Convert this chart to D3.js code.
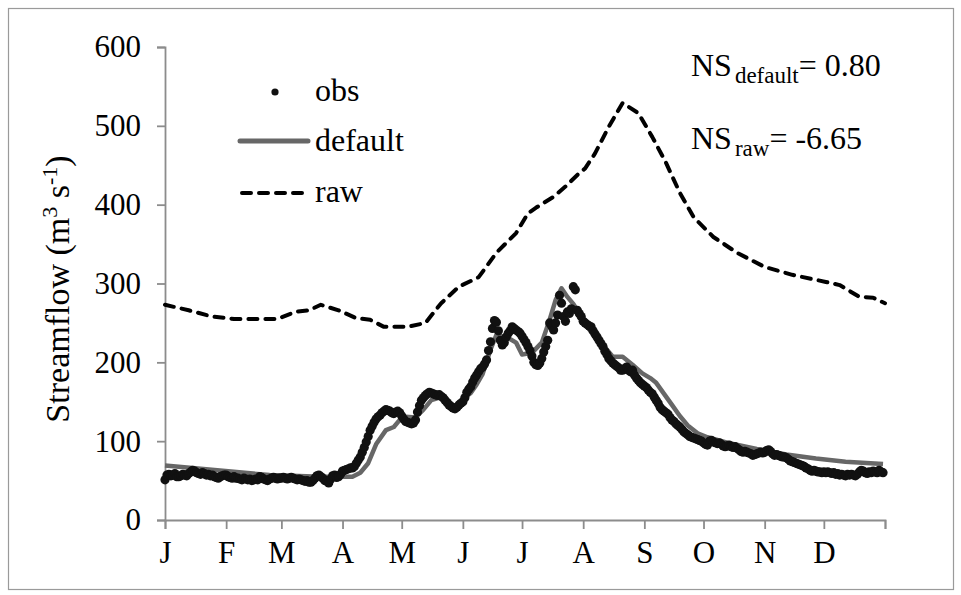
<!DOCTYPE html>
<html><head><meta charset="utf-8">
<script src="https://cdn.jsdelivr.net/npm/d3@7/dist/d3.min.js"></script>
<style>
html,body{margin:0;padding:0;background:#fff;}
svg{display:block;}
</style></head>
<body>
<svg id="chart" width="961" height="595"></svg>
<script>
// ---- data ----
const monthLabels = ["J","F","M","A","M","J","J","A","S","O","N","D"];
const monthStartDays = [0,31,59,90,120,151,181,212,243,273,304,334,365];
const yTicks = [0,100,200,300,400,500,600];

// observed daily streamflow (day 0..364)
const obsValues = [
 51,57,58,56,57,59,55,55,56,58,57,56,59,61,63,62,60,59,58,60,59,57,58,56,57,55,54,53,55,56,57,
 57,55,54,53,55,53,53,52,51,53,52,51,52,50,51,52,51,55,54,52,51,50,52,53,54,53,52,53,
 53,54,53,52,53,54,53,52,51,52,51,50,49,50,48,48,50,53,56,57,55,53,50,49,47,52,56,57,54,55,58,
 62,63,64,65,66,66,68,72,76,80,86,92,99,106,114,119,124,128,131,133,136,138,140,139,138,136,135,137,138,136,
 132,128,125,124,123,122,123,127,137,145,152,155,158,160,162,161,160,159,158,159,157,155,152,149,146,144,142,141,143,146,148,
 150,155,162,166,169,175,180,184,188,192,194,198,203,215,226,243,253,251,240,228,222,225,232,237,240,245,243,241,239,237,
 233,229,225,220,215,208,200,197,196,199,205,213,220,228,250,246,241,250,260,285,275,258,252,264,262,268,296,292,266,262,258,
 252,250,248,246,245,240,236,232,228,224,220,214,210,205,202,199,197,195,193,190,190,192,194,190,188,190,184,180,177,174,172,
 170,168,165,162,160,156,152,148,143,140,138,136,134,130,127,125,122,120,118,115,112,110,108,106,105,104,103,102,101,100,
 98,96,95,100,101,99,98,97,98,96,94,93,94,95,93,92,93,91,89,87,86,87,86,85,84,82,83,84,85,86,85,
 86,88,89,87,84,82,83,82,81,80,80,79,77,75,74,73,72,71,70,69,68,66,65,63,62,63,62,61,61,60,
 61,60,61,60,59,60,58,59,57,58,57,56,58,57,58,57,56,58,61,63,62,60,59,61,60,62,61,60,63,61,60
];

// default simulation (day, value)
const defaultDays   = [0,53,79,95,99,103,107,112,116,119,122,127,131,135,140,144,148,152,155,158,161,165,168,171,174,178,181,186,191,195,198,201,204,207,211,215,219,222,227,232,237,242,246,249,253,257,261,265,270,275,285,300,315,330,345,364];
const defaultValues = [69,57,55,55,60,72,96,114,118,127,131,130,140,152,156,150,142,155,161,172,185,216,235,233,231,225,210,212,225,254,279,294,283,274,258,242,230,222,207,207,197,186,180,174,160,146,132,120,110,105,98,90,83,78,74,71];

// raw simulation (day, value)
const rawDays   = [0,12,24,35,47,57,66,73,79,88,97,104,111,123,132,140,149,159,168,178,184,188,197,203,210,213,218,225,232,240,247,254,261,268,278,290,304,318,335,342,352,359,365];
const rawValues = [273,266,258,255,255,255,264,266,273,266,256,254,245,245,250,275,296,308,339,364,389,396,410,423,440,446,465,499,529,516,486,453,415,384,359,339,321,311,302,298,283,282,275];

// ---- chart ----
const FONT = "Liberation Serif";
const svg = d3.select("#chart");
const L = 165, R = 885, T = 47, B = 520;
const x = d3.scaleLinear().domain([0,365]).range([L,R]);
const y = d3.scaleLinear().domain([0,600]).range([B,T]);
const axisColor = "#8c8c8c";

// outer border
svg.append("rect").attr("x",8.5).attr("y",8.5).attr("width",945).attr("height",581)
  .attr("fill","none").attr("stroke","#9a9a9a").attr("stroke-width",1.2);

// y axis
const gy = svg.append("g").attr("transform",`translate(${L},0)`)
  .call(d3.axisLeft(y).tickValues(yTicks).tickSize(8).tickPadding(16).tickFormat(d3.format("d")));
gy.attr("font-family",FONT).attr("font-size",31);
gy.select(".domain").attr("stroke",axisColor).attr("stroke-width",1.8);
gy.selectAll(".tick line").attr("stroke",axisColor).attr("stroke-width",1.8);
gy.selectAll(".tick text").attr("fill","#000");

// x axis
const gx = svg.append("g").attr("transform",`translate(0,${B})`)
  .call(d3.axisBottom(x).tickValues(monthStartDays).tickSize(9).tickPadding(12)
    .tickFormat((d,i)=> i < monthLabels.length ? monthLabels[i] : ""));
gx.attr("font-family",FONT).attr("font-size",31);
gx.select(".domain").attr("stroke",axisColor).attr("stroke-width",1.8);
gx.selectAll(".tick line").attr("stroke",axisColor).attr("stroke-width",1.8);
gx.selectAll(".tick text").attr("fill","#000");

// y title
const yt = svg.append("text").attr("transform",`translate(69,289) rotate(-90)`)
  .attr("text-anchor","middle").attr("font-size",34).attr("font-family",FONT);
yt.append("tspan").text("Streamflow (m");
yt.append("tspan").attr("font-size",22).attr("dy",-12).text("3");
yt.append("tspan").attr("dy",12).text(" s");
yt.append("tspan").attr("font-size",22).attr("dy",-12).text("-1");
yt.append("tspan").attr("dy",12).text(")");

// raw dashed line
const rawPts = rawDays.map((d,i)=>[d,rawValues[i]]);
svg.append("path").datum(rawPts)
  .attr("d", d3.line().x(d=>x(d[0])).y(d=>y(d[1])))
  .attr("fill","none").attr("stroke","#000").attr("stroke-width",4)
  .attr("stroke-dasharray","9,8").attr("stroke-linecap","round").attr("stroke-linejoin","round");

// default line
const defPts = defaultDays.map((d,i)=>[d,defaultValues[i]]);
svg.append("path").datum(defPts)
  .attr("d", d3.line().x(d=>x(d[0])).y(d=>y(d[1])))
  .attr("fill","none").attr("stroke","#676767").attr("stroke-width",4.5)
  .attr("stroke-linejoin","round");

// obs dots
svg.append("g").selectAll("circle").data(obsValues).join("circle")
  .attr("cx",(d,i)=>x(i)).attr("cy",d=>y(d)).attr("r",4.6).attr("fill","#111");

// legend
const lg = svg.append("g").attr("font-family",FONT).attr("font-size",32);
lg.append("circle").attr("cx",275).attr("cy",92).attr("r",3.6).attr("fill","#111");
lg.append("text").attr("x",315).attr("y",101).text("obs");
lg.append("line").attr("x1",240).attr("x2",308).attr("y1",141).attr("y2",141)
  .attr("stroke","#676767").attr("stroke-width",5).attr("stroke-linecap","round");
lg.append("text").attr("x",315).attr("y",151).text("default");
lg.append("line").attr("x1",242).attr("x2",308).attr("y1",193).attr("y2",193)
  .attr("stroke","#000").attr("stroke-width",4).attr("stroke-dasharray","9,8").attr("stroke-linecap","round");
lg.append("text").attr("x",315).attr("y",202).text("raw");

// NS annotations
function ns(yb, sub, val){
  const t = svg.append("text").attr("x",691).attr("y",yb).attr("font-size",32).attr("font-family",FONT);
  t.append("tspan").text("NS");
  t.append("tspan").attr("font-size",23).attr("dx",3).attr("dy",7).text(sub);
  t.append("tspan").attr("dy",-7).text("= " + val);
}
ns(76,"default","0.80");
ns(149,"raw","-6.65");
</script>
</body></html>
